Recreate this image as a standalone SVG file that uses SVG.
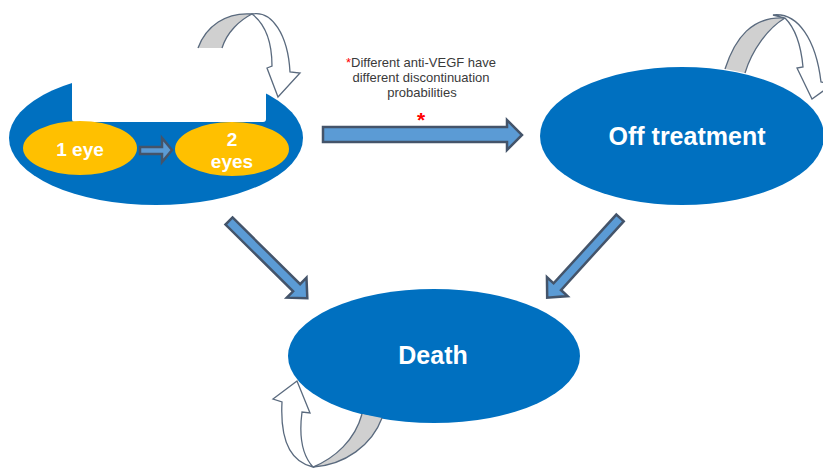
<svg xmlns="http://www.w3.org/2000/svg" width="823" height="468" viewBox="0 0 823 468">
<style>
.state{fill:#0070C0}
.sub{fill:#FFC000}
.lbl{font-family:"Liberation Sans",Arial,sans-serif;font-weight:bold;fill:#FFFFFF;text-anchor:middle}
.note{font-family:"Liberation Sans",Arial,sans-serif;font-size:13px;fill:#3A3A3A;text-anchor:middle}
.arrow{fill:#5B9BD5;stroke:#44546A;stroke-width:2.5;stroke-linejoin:miter}
.loopfill{fill:#D0D0D0;stroke:none}
.loopedge{fill:none;stroke:#5A6A7E;stroke-width:1.3}
.loophead{fill:#FFFFFF;stroke:#5A6A7E;stroke-width:1.3;stroke-linejoin:miter}
</style>
<rect width="823" height="468" fill="#FFFFFF"/>
<g id="node-on-treatment">
<ellipse class="state" cx="156" cy="138" rx="147" ry="67"/>
<rect x="72" y="47" width="194" height="75" rx="3" fill="#FFFFFF"/>
</g>
<g id="node-1-eye">
<ellipse class="sub" cx="80" cy="148" rx="57" ry="27"/>
<text class="lbl" x="80" y="156" font-size="19">1 eye</text>
</g>
<g id="node-2-eyes">
<ellipse class="sub" cx="232" cy="149" rx="57" ry="27"/>
<text class="lbl" x="232" y="146" font-size="19">2</text>
<text class="lbl" x="232" y="168" font-size="19">eyes</text>
</g>
<g id="node-off-treatment">
<ellipse class="state" cx="682" cy="136" rx="142" ry="69"/>
<text class="lbl" x="687" y="145" font-size="25">Off treatment</text>
</g>
<g id="node-death">
<ellipse class="state" cx="434" cy="356" rx="146" ry="67"/>
<text class="lbl" x="433" y="364" font-size="25">Death</text>
</g>
<g id="connectors">
<path class="loopfill" d="M198,48 C206,26 226,12 252,14 C240,20 227,32 222,48 Z"/>
<path class="loopedge" d="M198,48 C206,26 226,12 252,14 C240,20 227,32 222,48"/>
<path class="loophead" d="M252,14 C272,10 288,35 290,72 L300,73 L278,97 L267,68 L272,66 C272,42 265,24 252,14 Z"/>
<path class="loopfill" d="M725,69 C735,38 752,16 785,18 C768,28 752,50 745,73 Z"/>
<path class="loopedge" d="M725,69 C735,38 752,16 785,18 C768,28 752,50 745,73"/>
<path class="loophead" d="M773,15 C798,12 816,40 821,82 L833,84 L812,99 L797,68 L803,67 C801,45 795,28 785,18 Z"/>
<path class="loopfill" d="M382,418 C372,445 345,465 313,467 C335,458 355,440 362,414 Z"/>
<path class="loopedge" d="M382,418 C372,445 345,465 313,467 C335,458 355,440 362,414"/>
<path class="loophead" d="M313,467 C290,462 280,440 282,402 L273,399 L297,381 L310,413 L302,412 C299,435 302,455 313,467 Z"/>
<path class="arrow" stroke-width="2" d="M140,147 L162,147 L162,138 L172,150 L162,162 L162,154 L140,154 Z"/>
<path class="arrow" d="M323,127 L507,127 L507,120 L522,135 L507,150 L507,142 L323,142 Z"/>
<polygon class="arrow" transform="translate(229,221) rotate(44.6)" points="0,-5 95,-5 95,-14 110,0 95,14 95,5 0,5"/>
<polygon class="arrow" transform="translate(620,218) rotate(132.4)" points="0,-5 93,-5 93,-14 108,0 93,14 93,5 0,5"/>
</g>
<g id="note">
<text class="note" x="421" y="67"><tspan fill="#FF0000">*</tspan>Different anti-VEGF have</text>
<text class="note" x="421" y="82">different discontinuation</text>
<text class="note" x="422" y="97">probabilities</text>
<text x="421" y="127" font-family="Liberation Sans,Arial,sans-serif" font-size="21" font-weight="bold" fill="#FF0000" text-anchor="middle">*</text>
</g>
</svg>
